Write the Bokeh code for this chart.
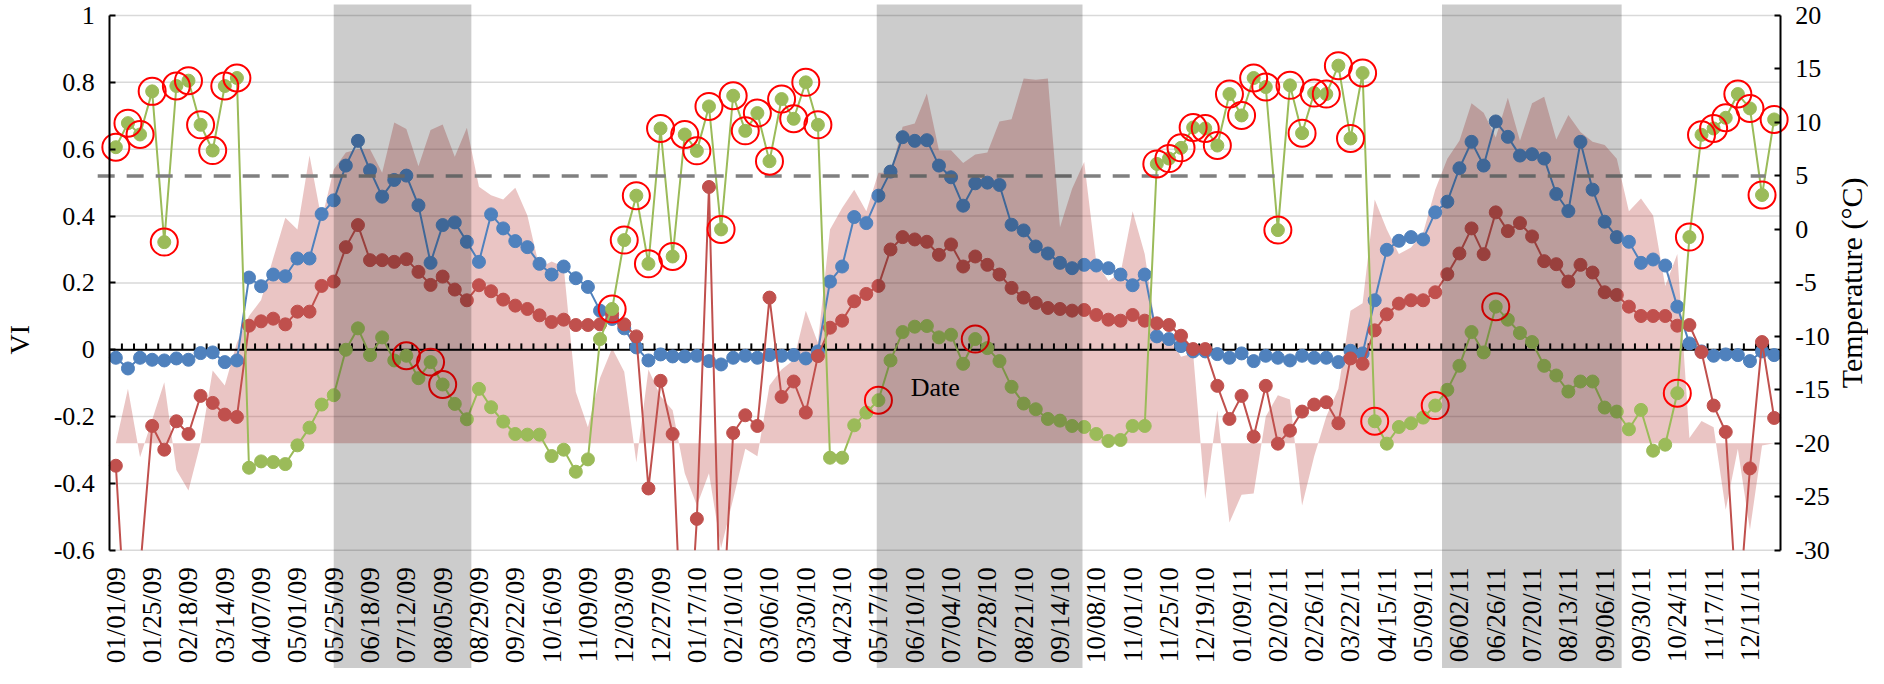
import math
from bokeh.plotting import figure
from bokeh.models import Range1d, LinearAxis, FixedTicker, BoxAnnotation, Label
from bokeh.embed import file_html
from bokeh.resources import INLINE

# ---------------- data ----------------
tick_labels = [
    "01/01/09", "01/25/09", "02/18/09", "03/14/09", "04/07/09", "05/01/09", "05/25/09", "06/18/09",
    "07/12/09", "08/05/09", "08/29/09", "09/22/09", "10/16/09", "11/09/09", "12/03/09", "12/27/09",
    "01/17/10", "02/10/10", "03/06/10", "03/30/10", "04/23/10", "05/17/10", "06/10/10", "07/04/10",
    "07/28/10", "08/21/10", "09/14/10", "10/08/10", "11/01/10", "11/25/10", "12/19/10",
    "01/09/11", "02/02/11", "02/26/11", "03/22/11", "04/15/11", "05/09/11", "06/02/11", "06/26/11",
    "07/20/11", "08/13/11", "09/06/11", "09/30/11", "10/24/11", "11/17/11", "12/11/11",
]

blue_vi = [
    -0.024, -0.056, -0.024, -0.030, -0.032, -0.026, -0.030, -0.010, -0.008, -0.037,
    -0.032, 0.216, 0.190, 0.225, 0.220, 0.273, 0.273, 0.406, 0.447, 0.551,
    0.625, 0.537, 0.458, 0.508, 0.521, 0.432, 0.260, 0.373, 0.381, 0.323,
    0.263, 0.405, 0.363, 0.325, 0.307, 0.257, 0.225, 0.249, 0.214, 0.188,
    0.117, 0.092, 0.064, 0.007, -0.032, -0.014, -0.020, -0.020, -0.018, -0.034,
    -0.044, -0.024, -0.018, -0.024, -0.016, -0.018, -0.016, -0.026, -0.005, 0.204,
    0.249, 0.397, 0.379, 0.461, 0.533, 0.636, 0.625, 0.627, 0.551, 0.516,
    0.431, 0.498, 0.500, 0.493, 0.374, 0.357, 0.309, 0.288, 0.260, 0.244,
    0.254, 0.252, 0.244, 0.225, 0.193, 0.225, 0.040, 0.032, 0.011, -0.005,
    -0.005, -0.013, -0.024, -0.011, -0.034, -0.018, -0.024, -0.032, -0.018, -0.024,
    -0.024, -0.037, -0.003, -0.011, 0.148, 0.299, 0.326, 0.337, 0.330, 0.411,
    0.443, 0.543, 0.622, 0.551, 0.683, 0.637, 0.581, 0.585, 0.572, 0.466,
    0.415, 0.622, 0.479, 0.383, 0.337, 0.323, 0.260, 0.270, 0.252, 0.129,
    0.019, -0.005, -0.018, -0.014, -0.016, -0.034, -0.005, -0.016,
]

red_vi = [
    -0.347, -0.950, -0.660, -0.228, -0.299, -0.214, -0.252, -0.138, -0.159, -0.194,
    -0.201, 0.072, 0.085, 0.093, 0.076, 0.114, 0.114, 0.191, 0.204, 0.307,
    0.373, 0.268, 0.268, 0.263, 0.271, 0.233, 0.194, 0.219, 0.180, 0.148,
    0.193, 0.175, 0.150, 0.132, 0.122, 0.103, 0.083, 0.090, 0.074, 0.074,
    0.076, 0.106, 0.076, 0.040, -0.415, -0.093, -0.252, -1.100, -0.506, 0.487,
    -0.900, -0.249, -0.196, -0.228, 0.156, -0.141, -0.095, -0.188, -0.019, 0.066,
    0.087, 0.145, 0.167, 0.191, 0.300, 0.337, 0.330, 0.323, 0.284, 0.315,
    0.249, 0.279, 0.254, 0.225, 0.185, 0.156, 0.140, 0.125, 0.122, 0.117,
    0.119, 0.104, 0.090, 0.087, 0.104, 0.087, 0.079, 0.074, 0.042, 0.002,
    0.002, -0.108, -0.207, -0.138, -0.260, -0.108, -0.281, -0.242, -0.185, -0.164,
    -0.157, -0.220, -0.026, -0.042, 0.058, 0.106, 0.138, 0.148, 0.148, 0.172,
    0.226, 0.288, 0.363, 0.286, 0.411, 0.355, 0.379, 0.339, 0.265, 0.256,
    0.204, 0.254, 0.231, 0.172, 0.164, 0.129, 0.101, 0.101, 0.101, 0.072,
    0.074, -0.007, -0.167, -0.246, -0.820, -0.355, 0.023, -0.204,
]

green_vi = [
    0.606, 0.678, 0.644, 0.773, 0.322, 0.789, 0.805, 0.673, 0.596, 0.789,
    0.813, -0.353, -0.334, -0.336, -0.342, -0.286, -0.233, -0.164, -0.136, 0.000,
    0.064, -0.016, 0.037, -0.032, -0.018, -0.085, -0.037, -0.104, -0.162, -0.208,
    -0.117, -0.172, -0.215, -0.252, -0.254, -0.254, -0.318, -0.299, -0.365, -0.328,
    0.032, 0.122, 0.328, 0.461, 0.257, 0.662, 0.279, 0.644, 0.595, 0.728,
    0.360, 0.760, 0.655, 0.708, 0.564, 0.750, 0.691, 0.800, 0.673, -0.323,
    -0.323, -0.226, -0.188, -0.151, -0.032, 0.053, 0.069, 0.071, 0.037, 0.045,
    -0.042, 0.032, 0.005, -0.034, -0.111, -0.161, -0.178, -0.207, -0.212, -0.228,
    -0.231, -0.252, -0.273, -0.270, -0.228, -0.228, 0.556, 0.572, 0.604, 0.665,
    0.662, 0.611, 0.765, 0.701, 0.813, 0.786, 0.358, 0.791, 0.648, 0.768,
    0.765, 0.850, 0.632, 0.828, -0.214, -0.281, -0.231, -0.220, -0.203, -0.167,
    -0.120, -0.048, 0.053, -0.008, 0.129, 0.090, 0.050, 0.023, -0.048, -0.077,
    -0.125, -0.095, -0.095, -0.173, -0.185, -0.238, -0.180, -0.302, -0.284, -0.130,
    0.337, 0.643, 0.662, 0.694, 0.765, 0.722, 0.463, 0.689,
]

temperature_c = [
    -20.0, -14.9, -21.3, -17.8, -14.3, -22.5, -24.4, -20.0, -13.2, -14.6,
    -10.6, -8.1, -6.6, -2.7, 1.1, 0.0, 6.9, 0.9, 5.6, 7.2,
    7.5, 7.5, 5.3, 10.0, 9.4, 5.9, 9.3, 9.8, 6.8, 9.5,
    4.0, 3.2, 2.8, 3.9, 1.3, -3.6, -3.0, -3.5, -15.2, -18.5,
    -13.9, -11.1, -13.3, -21.8, -13.1, -15.6, -16.9, -22.8, -25.8, -22.8,
    -29.8, -25.2, -20.5, -21.2, -14.6, -13.1, -12.2, -7.6, -10.6, 0.0,
    2.0, 3.7, 1.7, 5.3, 5.3, 9.6, 9.9, 12.7, 7.4, 7.4,
    6.2, 7.0, 7.2, 10.1, 10.3, 14.1, 14.0, 14.1, 0.2, 3.8,
    6.3, -3.1, -4.8, -4.1, 1.7, -2.3, -10.0, -10.0, -11.9, -11.6,
    -25.2, -16.9, -27.4, -24.8, -24.7, -17.5, -15.5, -15.9, -25.8, -21.2,
    -17.5, -14.9, -7.6, -6.9, 2.8, 0.0, -2.3, -1.7, -0.3, 3.7,
    6.6, 8.3, 11.8, 10.9, 8.6, 12.3, 8.3, 11.8, 12.4, 8.4,
    10.7, 9.1, 8.2, 7.9, 6.6, 1.7, 2.9, 1.3, -5.3, -2.3,
    -19.5, -17.9, -18.5, -26.2, -20.5, -28.1, -20.2, -20.0,
]

circled_idx = (list(range(0, 11)) + [24, 26, 27] + list(range(41, 59)) + [63, 71]
               + list(range(86, 105)) + [109, 114] + list(range(129, 138)))

gray_periods = [(18.0, 29.37), (62.86, 79.86), (109.56, 124.4)]
threshold_temp = 5
temp_base = -20
vi_ticks = [-0.6, -0.4, -0.2, 0, 0.2, 0.4, 0.6, 0.8, 1]
vi_tick_labels = ["-0.6", "-0.4", "-0.2", "0", "0.2", "0.4", "0.6", "0.8", "1"]
temp_ticks = [-30, -25, -20, -15, -10, -5, 0, 5, 10, 15, 20]

# ---------------- layout constants ----------------
FONT = "Liberation Serif"
FS = "26px"
n = len(blue_vi)
xs = list(range(n))
X0, X1 = -0.5, n - 0.5            # category extent (axis to axis)
VI_MIN, VI_MAX = -0.6, 1.0
T_MIN, T_MAX = -30, 20

W, H = 1868, 668
AX_L, AX_R = 109.3, 1779.7        # canvas x of left / right axis lines
AX_T, AX_B = 15.0, 549.8          # canvas y of VI = 1 and VI = -0.6
sx = (AX_R - AX_L) / (X1 - X0)
sy = (AX_B - AX_T) / (VI_MAX - VI_MIN)
x_start, x_end = X0 - AX_L / sx, X1 + (W - AX_R) / sx
y_top, y_bottom = VI_MAX + AX_T / sy, VI_MIN - (H - AX_B) / sy
k = (VI_MAX - VI_MIN) / (T_MAX - T_MIN)          # VI per degree
c0 = VI_MAX - k * T_MAX                           # VI at 0 degree
t_top, t_bottom = (y_top - c0) / k, (y_bottom - c0) / k

p = figure(width=W, height=H, output_backend="svg", toolbar_location=None,
           x_range=Range1d(x_start, x_end), y_range=Range1d(y_bottom, y_top),
           min_border_left=0, min_border_right=0, min_border_top=0, min_border_bottom=0)
p.outline_line_color = None
p.extra_y_ranges = {"temp": Range1d(t_bottom, t_top)}
p.xgrid.visible = False
p.ygrid.visible = False

# x axis at VI = -0.6, labels below
xa = p.xaxis[0]
xa.fixed_location = VI_MIN
xa.ticker = FixedTicker(ticks=[3 * i for i in range(len(tick_labels))])
xa.major_label_overrides = {3 * i: lbl for i, lbl in enumerate(tick_labels)}
xa.major_label_orientation = math.pi / 2
xa.axis_line_color = None
xa.major_tick_line_color = None
xa.minor_tick_line_color = None
xa.major_label_standoff = 11
xa.major_label_text_font = FONT
xa.major_label_text_font_size = "27px"
xa.major_label_text_color = "black"

# left VI axis
ya = p.yaxis[0]
ya.fixed_location = X0
ya.bounds = (VI_MIN, VI_MAX)
ya.ticker = FixedTicker(ticks=vi_ticks)
ya.major_label_overrides = {t: l for t, l in zip(vi_ticks, vi_tick_labels)}
ya.major_tick_in = 6
ya.major_tick_out = 0
ya.minor_tick_line_color = None
ya.axis_line_width = 2
ya.major_tick_line_width = 2
ya.axis_line_color = "black"
ya.major_label_standoff = 15
ya.major_label_text_font = FONT
ya.major_label_text_font_size = FS
ya.major_label_text_color = "black"

# right temperature axis
ra = LinearAxis(y_range_name="temp", ticker=FixedTicker(ticks=temp_ticks), bounds=(T_MIN, T_MAX),
                fixed_location=X1)
ra.major_label_overrides = {t: str(t) for t in temp_ticks}
ra.major_tick_in = 6
ra.major_tick_out = 0
ra.minor_tick_line_color = None
ra.axis_line_width = 2
ra.major_tick_line_width = 2
ra.major_label_standoff = 15
ra.major_label_text_font = FONT
ra.major_label_text_font_size = FS
ra.major_label_text_color = "black"
p.add_layout(ra, "right")

# horizontal gridlines between the two axes
p.segment(x0=X0, y0=vi_ticks, x1=X1, y1=vi_ticks, line_color="#d9d9d9", line_width=1.5)

# temperature area (filled between the temperature and the -20 °C base)
p.varea(x=xs, y1=temp_base, y2=temperature_c, fill_color="#c0504d", fill_alpha=0.33,
        y_range_name="temp")

# zero line with upward ticks at category boundaries
bounds = [i + 0.5 for i in range(n - 1)]
p.segment(x0=[X0], y0=[0], x1=[X1], y1=[0], line_color="black", line_width=2)
p.segment(x0=bounds, y0=0, x1=bounds, y1=0.019, line_color="black", line_width=2)


def clipped(values, floor):
    """Polyline of the series cut at the bottom of the VI axis (-0.6)."""
    px, py = [], []
    for i, v in enumerate(values):
        if i > 0:
            u = values[i - 1]
            if (u < floor) != (v < floor):
                t = (floor - u) / (v - u)
                px.append(i - 1 + t)
                py.append(floor)
                if v < floor:
                    px.append(float("nan"))
                    py.append(float("nan"))
        if v >= floor:
            px.append(i)
            py.append(v)
    return px, py


# series
for series, color in [(blue_vi, "#4f81bd"), (red_vi, "#c0504d"), (green_vi, "#9bbb59")]:
    lx, ly = clipped(series, VI_MIN)
    p.line(lx, ly, line_color=color, line_width=2)
    mx = [i for i, v in zip(xs, series) if v >= VI_MIN]
    my = [v for v in series if v >= VI_MIN]
    p.scatter(mx, my, size=13, fill_color=color, line_color=color)

# threshold dashed line
p.segment(x0=[X0 - 1.0], y0=[threshold_temp], x1=[136.3], y1=[threshold_temp],
          line_color="#808080", line_width=3.5, line_dash="17 12", y_range_name="temp")

# red circles around flagged points
p.scatter([i for i in circled_idx], [green_vi[i] for i in circled_idx], size=27,
          fill_color=None, line_color="#ff0000", line_width=2)

# shaded periods (running from the top of the chart through the date labels)
for l, r in gray_periods:
    p.add_layout(BoxAnnotation(left=l, right=r, bottom=y_bottom - 0.1, top=VI_MAX + 11 / sy,
                               fill_color="black", fill_alpha=0.2, line_color=None,
                               level="overlay"))

# titles
p.add_layout(Label(x=X0 - (AX_L - 19) / sx, y=0.03, text="VI", text_font=FONT,
                   text_font_size="28px", angle=math.pi / 2, text_align="center",
                   text_baseline="middle", text_color="black"))
p.add_layout(Label(x=X1 + (W - 17 - AX_R) / sx, y=0.2, text="Temperature (°C)", text_font=FONT,
                   text_font_size="30px", angle=math.pi / 2, text_align="center",
                   text_baseline="middle", text_color="black"))
p.add_layout(Label(x=67.7, y=-0.112, text="Date", text_font=FONT, text_font_size=FS,
                   text_align="center", text_baseline="middle", text_color="black"))

open("out.html", "w").write(file_html(p, INLINE))
